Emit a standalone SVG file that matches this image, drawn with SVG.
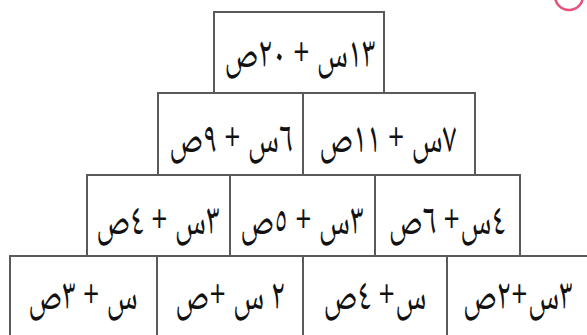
<svg xmlns="http://www.w3.org/2000/svg" width="587" height="335" viewBox="0 0 587 335">
<style>
.box{fill:#fff;stroke:#5a5a5a;stroke-width:2}
.t{font-family:"Noto Naskh Arabic","Noto Sans Arabic","DejaVu Sans",sans-serif;font-size:40px;fill:#111;text-anchor:middle;direction:rtl;unicode-bidi:embed}
</style>
<rect width="587" height="335" fill="#fff"/>
<circle cx="569" cy="-4" r="14" fill="none" stroke="#e8507a" stroke-width="2.5"/>
<g id="n1"><rect class="box" x="214" y="12" width="170" height="81"/><text class="t" transform="translate(300,67) scale(0.77,1.1)">١٣س + ٢٠ص</text></g>
<g id="n2a"><rect class="box" x="158" y="93" width="145" height="82"/><text class="t" transform="translate(231,152) scale(0.77,1.1)">٦س + ٩ص</text></g>
<g id="n2b"><rect class="box" x="303" y="93" width="172" height="82"/><text class="t" transform="translate(388,152) scale(0.77,1.1)">٧س + ١١ص</text></g>
<g id="n3a"><rect class="box" x="87" y="175" width="143" height="81"/><text class="t" transform="translate(158,234) scale(0.77,1.1)">٣س + ٤ص</text></g>
<g id="n3b"><rect class="box" x="230" y="175" width="145" height="81"/><text class="t" transform="translate(302,234) scale(0.77,1.1)">٣س + ٥ص</text></g>
<g id="n3c"><rect class="box" x="375" y="175" width="145" height="81"/><text class="t" transform="translate(447,234) scale(0.77,1.1)">٤س+ ٦ص</text></g>
<g id="n4a"><rect class="box" x="10" y="256" width="147" height="84"/><text class="t" transform="translate(83,309) scale(0.77,1.1)">س + ٣ص</text></g>
<g id="n4b"><rect class="box" x="157" y="256" width="146" height="84"/><text class="t" transform="translate(230,309) scale(0.77,1.1)">٢ س +ص</text></g>
<g id="n4c"><rect class="box" x="303" y="256" width="144" height="84"/><text class="t" transform="translate(375,309) scale(0.77,1.1)">س+ ٤ص</text></g>
<g id="n4d"><rect class="box" x="447" y="256" width="145" height="84"/><text class="t" transform="translate(518,309) scale(0.77,1.1)">٣س+٢ص</text></g>
<g id="connectors"></g>
</svg>
